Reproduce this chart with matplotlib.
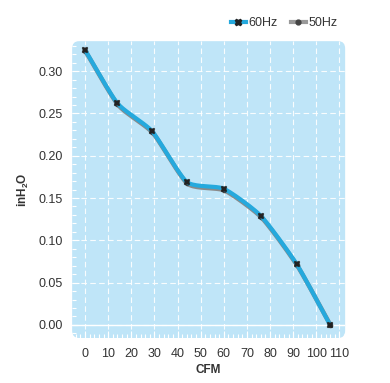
import numpy as np
import matplotlib
matplotlib.use("Agg")
import matplotlib.pyplot as plt
from matplotlib.patches import FancyBboxPatch
from matplotlib.ticker import MultipleLocator
from matplotlib.lines import Line2D

plt.rcParams["font.family"] = ["Liberation Sans", "DejaVu Sans"]
plt.rcParams["mathtext.fontset"] = "custom"
plt.rcParams["mathtext.rm"] = "Liberation Sans"
plt.rcParams["mathtext.bf"] = "Liberation Sans:bold"

cfm_60 = [0, 14, 29, 44, 60, 76, 91.5, 106]
p_60 = [0.325, 0.262, 0.229, 0.169, 0.161, 0.129, 0.072, 0.0]
cfm_50 = [0, 14, 29, 44, 60, 76, 91.5, 106]
p_50 = [0.324, 0.261, 0.228, 0.168, 0.160, 0.128, 0.071, 0.0]
xticks = [0, 10, 20, 30, 40, 50, 60, 70, 80, 90, 100, 110]
yticks = [0.00, 0.05, 0.10, 0.15, 0.20, 0.25, 0.30]


def smooth(x, y, n=20, k=0.3):
    x = np.asarray(x, float); y = np.asarray(y, float)
    P = np.column_stack([x, y])
    P = np.vstack([2 * P[0] - P[1], P, 2 * P[-1] - P[-2]])
    out = []
    t = np.linspace(0, 1, n, endpoint=False)[:, None]
    h00 = 2 * t**3 - 3 * t**2 + 1
    h10 = t**3 - 2 * t**2 + t
    h01 = -2 * t**3 + 3 * t**2
    h11 = t**3 - t**2
    for i in range(1, len(P) - 2):
        p0, p1, p2, p3 = P[i - 1], P[i], P[i + 1], P[i + 2]
        m1 = k * (p2 - p0)
        m2 = k * (p3 - p1)
        out.append(h00 * p1 + h10 * m1 + h01 * p2 + h11 * m2)
    out.append(P[-2][None, :])
    out = np.vstack(out)
    return out[:, 0], out[:, 1]


fig = plt.figure(figsize=(3.9, 3.83), dpi=100)
ax = fig.add_axes([0.185, 0.1175, 0.70, 0.775])
ax.set_facecolor("none")
ax.set_xlim(-5.6, 112.5)
ax.set_ylim(-0.0155, 0.3355)

bg = FancyBboxPatch((0, 0), 1, 1, boxstyle="round,pad=0,rounding_size=0.025",
                    transform=ax.transAxes, facecolor="#bfe5f8", edgecolor="none",
                    zorder=-5, clip_on=False)
ax.add_patch(bg)

for s in ax.spines.values():
    s.set_visible(False)

ax.set_xticks(xticks)
ax.set_yticks(yticks)
ax.set_yticklabels([f"{v:.2f}" for v in yticks])
ax.xaxis.set_minor_locator(MultipleLocator(2))
ax.yaxis.set_minor_locator(MultipleLocator(0.01))
ax.tick_params(axis="both", which="major", labelsize=9, labelcolor="#333333", pad=7)
ax.tick_params(axis="both", which="minor", direction="in", length=3, color="white", width=0.8)
ax.tick_params(axis="both", which="major", direction="in", length=5, color="white", width=0.8)

ax.grid(True, which="major", color="white", linestyle=(0, (5, 3)), linewidth=0.8, alpha=0.9)
ax.set_axisbelow(True)
ax.axhline(0, color="white", linewidth=1.0, zorder=0.5)

sx5, sy5 = smooth(cfm_50, p_50)
ax.plot(sx5 + 0.3, sy5 - 0.001, color="#8a8a8a", linewidth=3.2, zorder=2, solid_capstyle="round")
ax.plot(cfm_50, p_50, linestyle="none", marker="o", markersize=3, color="#444444", zorder=3)
sx6, sy6 = smooth(cfm_60, p_60)
ax.plot(sx6, sy6, color="#25a9dd", linewidth=3.0, zorder=4, solid_capstyle="round")
ax.plot(cfm_60, p_60, linestyle="none", marker="X", markersize=5, color="#222222",
        markeredgewidth=0.3, zorder=5)

ax.set_xlabel("CFM", fontsize=8.5, fontweight="bold", color="#333333", labelpad=3)
ax.set_ylabel("inH$_\\mathbf{2}$O", fontsize=8.5, fontweight="bold", color="#333333", labelpad=5)

handles = [
    Line2D([0], [0], color="#25a9dd", linewidth=3, marker="X", markersize=5,
           markerfacecolor="#222222", markeredgecolor="#222222", markevery=[1]),
    Line2D([0], [0], color="#999999", linewidth=3, marker="o", markersize=3.5,
           markerfacecolor="#444444", markeredgecolor="#444444", markevery=[1]),
]
leg = fig.legend(handles, ["60Hz", "50Hz"], loc="upper right", bbox_to_anchor=(0.895, 0.985),
                 ncol=2, frameon=False, fontsize=9, handlelength=1.2, handletextpad=0.25,
                 columnspacing=1.0, labelcolor="#333333")

fig.savefig("out.png", dpi=100)
